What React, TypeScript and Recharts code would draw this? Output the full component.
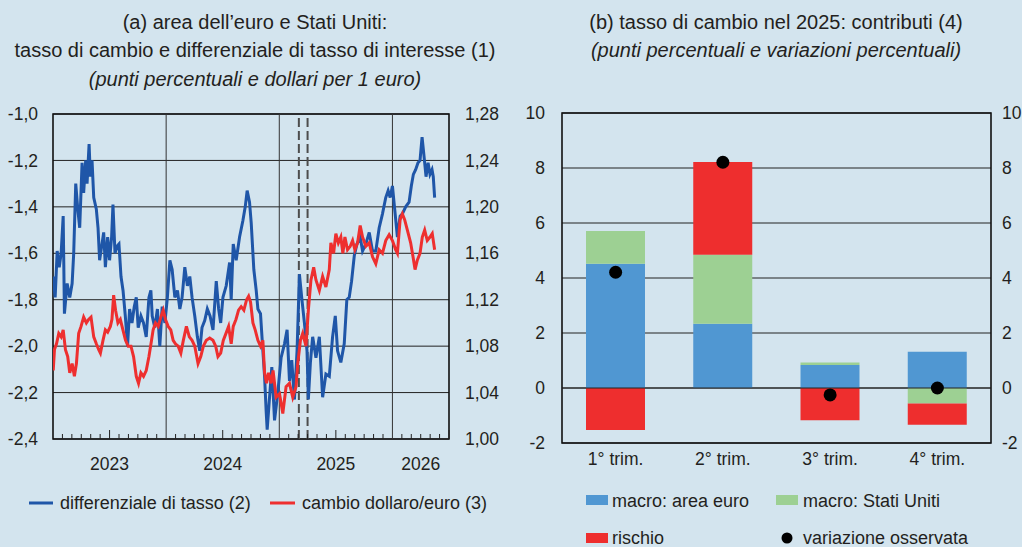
import React from "react";
import {
  Bar,
  CartesianGrid,
  ComposedChart,
  Line,
  LineChart,
  ReferenceArea,
  ReferenceLine,
  XAxis,
  YAxis,
} from "recharts";

// (a) differenziale di tasso, punti percentuali: [anno decimale, valore]
const differenziale: [number, number][] = [
  [2023.002, -1.7], [2023.019, -1.79], [2023.037, -1.59], [2023.055, -1.66], [2023.072, -1.6],
  [2023.09, -1.44], [2023.101, -1.86], [2023.125, -1.73], [2023.148, -1.79], [2023.169, -1.73],
  [2023.183, -1.6], [2023.201, -1.3], [2023.219, -1.41], [2023.236, -1.49], [2023.257, -1.21],
  [2023.271, -1.34], [2023.289, -1.2], [2023.301, -1.3], [2023.319, -1.13], [2023.33, -1.27],
  [2023.345, -1.2], [2023.36, -1.36], [2023.383, -1.41], [2023.398, -1.49], [2023.412, -1.63],
  [2023.433, -1.56], [2023.448, -1.51], [2023.463, -1.66], [2023.483, -1.53], [2023.5, -1.63],
  [2023.518, -1.53], [2023.53, -1.39], [2023.548, -1.6], [2023.566, -1.57], [2023.583, -1.56],
  [2023.601, -1.7], [2023.619, -1.76], [2023.639, -1.87], [2023.659, -2.0], [2023.677, -1.84],
  [2023.698, -1.9], [2023.718, -1.83], [2023.736, -1.79], [2023.753, -1.92], [2023.777, -1.87],
  [2023.8, -1.9], [2023.824, -1.96], [2023.848, -1.79], [2023.865, -1.76], [2023.877, -1.87],
  [2023.9, -1.92], [2023.923, -1.84], [2023.944, -2.0], [2023.965, -1.83], [2023.989, -1.9],
  [2024.011, -1.79], [2024.033, -1.63], [2024.053, -1.67], [2024.077, -1.79], [2024.1, -1.76],
  [2024.121, -1.84], [2024.141, -1.79], [2024.165, -1.66], [2024.188, -1.74], [2024.209, -1.7],
  [2024.229, -1.79], [2024.253, -1.87], [2024.276, -1.96], [2024.297, -2.02], [2024.317, -1.92],
  [2024.341, -1.89], [2024.364, -1.84], [2024.388, -1.87], [2024.414, -1.93], [2024.443, -1.72],
  [2024.464, -1.84], [2024.482, -1.9], [2024.502, -1.79], [2024.531, -1.74], [2024.561, -1.64],
  [2024.575, -1.8], [2024.593, -1.56], [2024.619, -1.63], [2024.649, -1.53], [2024.678, -1.46],
  [2024.699, -1.4], [2024.716, -1.33], [2024.737, -1.38], [2024.752, -1.47], [2024.775, -1.67],
  [2024.796, -1.76], [2024.811, -1.84], [2024.834, -1.86], [2024.855, -2.02], [2024.87, -2.13],
  [2024.884, -2.28], [2024.893, -2.36], [2024.914, -2.22], [2024.934, -2.09], [2024.958, -2.32],
  [2024.987, -2.2], [2025.016, -2.05], [2025.046, -1.99], [2025.069, -1.93], [2025.09, -2.15],
  [2025.11, -2.06], [2025.134, -2.23], [2025.157, -2.02], [2025.178, -1.69], [2025.198, -1.79],
  [2025.222, -1.9], [2025.245, -2.02], [2025.257, -2.23], [2025.275, -2.07], [2025.295, -1.96],
  [2025.324, -2.05], [2025.354, -1.96], [2025.383, -2.22], [2025.412, -2.12], [2025.442, -2.13],
  [2025.471, -1.96], [2025.495, -1.87], [2025.515, -2.02], [2025.544, -2.07], [2025.574, -1.99],
  [2025.597, -1.8], [2025.618, -1.79], [2025.639, -1.72], [2025.663, -1.61], [2025.686, -1.56],
  [2025.715, -1.53], [2025.736, -1.59], [2025.765, -1.56], [2025.795, -1.51], [2025.824, -1.59],
  [2025.853, -1.59], [2025.883, -1.49], [2025.912, -1.43], [2025.941, -1.36], [2025.962, -1.33],
  [2025.98, -1.36], [2026.0, -1.31], [2026.02, -1.41], [2026.044, -1.53], [2026.068, -1.44],
  [2026.088, -1.43], [2026.117, -1.4], [2026.147, -1.38], [2026.167, -1.31], [2026.185, -1.26],
  [2026.205, -1.24], [2026.226, -1.21], [2026.244, -1.2], [2026.262, -1.1], [2026.279, -1.18],
  [2026.297, -1.27], [2026.315, -1.21], [2026.332, -1.26], [2026.35, -1.24], [2026.361, -1.27],
  [2026.373, -1.36],
];

// (a) cambio dollaro/euro: [anno decimale, dollari per 1 euro]
const cambio: [number, number][] = [
  [2023.002, 1.059], [2023.013, 1.077], [2023.031, 1.082], [2023.051, 1.091], [2023.072, 1.088],
  [2023.09, 1.094], [2023.11, 1.077], [2023.13, 1.071], [2023.148, 1.057], [2023.169, 1.065],
  [2023.189, 1.054], [2023.207, 1.065], [2023.227, 1.091], [2023.248, 1.097], [2023.271, 1.105],
  [2023.295, 1.1], [2023.315, 1.103], [2023.336, 1.105], [2023.36, 1.088], [2023.383, 1.082],
  [2023.404, 1.077], [2023.419, 1.074], [2023.442, 1.085], [2023.463, 1.094], [2023.483, 1.092],
  [2023.507, 1.097], [2023.521, 1.103], [2023.536, 1.124], [2023.553, 1.111], [2023.574, 1.1],
  [2023.595, 1.103], [2023.618, 1.094], [2023.641, 1.085], [2023.665, 1.08], [2023.689, 1.08],
  [2023.712, 1.071], [2023.736, 1.054], [2023.756, 1.048], [2023.777, 1.057], [2023.8, 1.054],
  [2023.824, 1.059], [2023.848, 1.071], [2023.871, 1.085], [2023.885, 1.094], [2023.906, 1.1],
  [2023.93, 1.097], [2023.953, 1.105], [2023.974, 1.111], [2023.994, 1.103], [2024.018, 1.097],
  [2024.041, 1.094], [2024.062, 1.085], [2024.082, 1.082], [2024.106, 1.08], [2024.13, 1.074],
  [2024.152, 1.085], [2024.179, 1.097], [2024.205, 1.088], [2024.229, 1.085], [2024.253, 1.08],
  [2024.282, 1.065], [2024.306, 1.071], [2024.329, 1.08], [2024.355, 1.085], [2024.385, 1.087],
  [2024.414, 1.085], [2024.438, 1.08], [2024.458, 1.071], [2024.482, 1.074], [2024.505, 1.085],
  [2024.529, 1.091], [2024.552, 1.097], [2024.575, 1.082], [2024.593, 1.097], [2024.617, 1.103],
  [2024.64, 1.111], [2024.663, 1.114], [2024.687, 1.111], [2024.711, 1.12], [2024.729, 1.123],
  [2024.746, 1.118], [2024.767, 1.1], [2024.787, 1.094], [2024.811, 1.085], [2024.834, 1.08],
  [2024.855, 1.085], [2024.87, 1.057], [2024.887, 1.048], [2024.905, 1.057], [2024.928, 1.048],
  [2024.945, 1.059], [2024.972, 1.036], [2025.002, 1.039], [2025.031, 1.022], [2025.06, 1.045],
  [2025.09, 1.048], [2025.119, 1.036], [2025.148, 1.045], [2025.163, 1.065], [2025.187, 1.085],
  [2025.207, 1.091], [2025.236, 1.08], [2025.257, 1.111], [2025.28, 1.137], [2025.304, 1.148],
  [2025.324, 1.137], [2025.354, 1.128], [2025.383, 1.14], [2025.412, 1.131], [2025.442, 1.146],
  [2025.456, 1.169], [2025.48, 1.16], [2025.5, 1.177], [2025.522, 1.169], [2025.544, 1.174],
  [2025.562, 1.16], [2025.58, 1.174], [2025.603, 1.163], [2025.627, 1.166], [2025.648, 1.171],
  [2025.668, 1.163], [2025.692, 1.169], [2025.715, 1.184], [2025.736, 1.174], [2025.765, 1.166],
  [2025.795, 1.169], [2025.824, 1.157], [2025.853, 1.151], [2025.883, 1.163], [2025.912, 1.16],
  [2025.941, 1.171], [2025.971, 1.176], [2026.0, 1.171], [2026.029, 1.163], [2026.044, 1.16],
  [2026.068, 1.189], [2026.088, 1.194], [2026.108, 1.189], [2026.132, 1.18], [2026.161, 1.169],
  [2026.182, 1.157], [2026.2, 1.146], [2026.22, 1.154], [2026.244, 1.16], [2026.264, 1.174],
  [2026.285, 1.18], [2026.308, 1.171], [2026.332, 1.174], [2026.352, 1.177], [2026.373, 1.163],
];

const leftTicks = [-2.4, -2.2, -2.0, -1.8, -1.6, -1.4, -1.2, -1.0];
const rightTicks = [1.0, 1.04, 1.08, 1.12, 1.16, 1.2, 1.24, 1.28];
const yearLines = [2024, 2025, 2026];
const eventLines = [2025.173, 2025.25];
const timeDomain = [2023, 2026.5];

// (b) contributi alla variazione del cambio nel 2025
const trimestri = ["1° trim.", "2° trim.", "3° trim.", "4° trim."];
const macroEuro = [4.52, 2.34, 0.84, 1.32];
const macroUsa = [1.19, 2.51, 0.09, -0.56];
const rischio = [-1.53, 3.37, -1.17, -0.78];
const osservata = [4.21, 8.21, -0.25, 0.0];
const barTicks = [-2, 0, 2, 4, 6, 8, 10];

const FONT = "'Liberation Sans', Arial, Helvetica, sans-serif";
const BG = "#D3E4EE";
const INK = "#231F20";
const LINE_BLUE = "#1F56A8";
const LINE_RED = "#EE2F2F";
const BAR_BLUE = "#5097D2";
const BAR_GREEN = "#9DD093";
const BAR_RED = "#EE2E2E";

const diffData = differenziale.map(([t, v]) => ({ t, v }));
const cambioData = cambio.map(([t, v]) => ({ t, v }));
const barData = trimestri.map((cat, i) => ({
  cat,
  euro: macroEuro[i],
  usa: macroUsa[i],
  rischio: rischio[i],
  oss: osservata[i],
}));

const monthTicks: number[] = [];
for (let k = 0; k <= (timeDomain[1] - timeDomain[0]) * 12; k++) {
  monthTicks.push(timeDomain[0] + k / 12);
}

const comma = (d: number) => (v: number) => v.toFixed(d).replace(".", ",");
const tickStyle = { fontSize: 17.5, fill: INK, fontFamily: FONT };

const MonthTick = (props: any) => {
  const { x, y, payload } = props;
  const k = Math.round((payload.value - timeDomain[0]) * 12);
  const m = k % 12;
  const year = timeDomain[0] + Math.floor(k / 12);
  const mid = (Math.max(year, timeDomain[0]) + Math.min(year + 1, timeDomain[1])) / 2;
  const isLabel = Math.abs(payload.value - mid) < 0.01;
  if (m === 0) return <g />;
  const len = m === 6 ? 9 : 5;
  return (
    <g>
      <line x1={x} x2={x} y1={y} y2={y - len} stroke="#222" strokeWidth={1} />
      {isLabel && (
        <text x={x} y={y + 31} textAnchor="middle" {...tickStyle}>
          {year}
        </text>
      )}
    </g>
  );
};

const txt = { fontFamily: FONT, fill: INK };

export default function App() {
  return (
    <div
      style={{
        position: "absolute",
        left: 0,
        top: 0,
        width: 1022,
        height: 547,
        background: BG,
        overflow: "hidden",
        fontFamily: FONT,
      }}
    >
      <div style={{ position: "absolute", left: 0, top: 0 }}>
        <LineChart width={510} height={480} margin={{ top: 114, right: 6, bottom: 6, left: 13 }}>
          <XAxis
            dataKey="t"
            type="number"
            domain={timeDomain}
            ticks={monthTicks}
            interval={0}
            allowDataOverflow
            tickLine={false}
            axisLine={false}
            tickSize={0}
            tickMargin={0}
            height={35}
            tick={<MonthTick />}
          />
          <YAxis
            yAxisId="l"
            domain={[-2.4, -1.0]}
            ticks={leftTicks}
            width={40}
            tickLine={false}
            axisLine={false}
            tickSize={0}
            tickMargin={15}
            tickFormatter={comma(1)}
            tick={tickStyle}
          />
          <YAxis
            yAxisId="r"
            orientation="right"
            domain={[1.0, 1.28]}
            ticks={rightTicks}
            width={55}
            tickLine={false}
            axisLine={false}
            tickSize={0}
            tickMargin={16}
            tickFormatter={comma(2)}
            tick={tickStyle}
          />
          <CartesianGrid yAxisId="l" vertical={false} stroke="#222" strokeWidth={1} />
          {yearLines.map((x) => (
            <ReferenceLine key={x} x={x} yAxisId="l" stroke="#333" strokeWidth={1} />
          ))}
          {eventLines.map((x) => (
            <ReferenceLine
              key={x}
              x={x}
              yAxisId="l"
              stroke="#4d4d4d"
              strokeWidth={2}
              strokeDasharray="9 4"
            />
          ))}
          <Line
            data={diffData}
            dataKey="v"
            yAxisId="l"
            type="linear"
            stroke={LINE_BLUE}
            strokeWidth={3}
            dot={false}
            activeDot={false}
            isAnimationActive={false}
          />
          <Line
            data={cambioData}
            dataKey="v"
            yAxisId="r"
            type="linear"
            stroke={LINE_RED}
            strokeWidth={3}
            dot={false}
            activeDot={false}
            isAnimationActive={false}
          />
          <ReferenceArea
            yAxisId="l"
            y1={-2.4}
            y2={-1.0}
            fill="none"
            fillOpacity={0}
            stroke="#111"
            strokeWidth={1.6}
          />
        </LineChart>
      </div>

      <div style={{ position: "absolute", left: 500, top: 0 }}>
        <ComposedChart
          width={522}
          height={480}
          data={barData}
          stackOffset="sign"
          margin={{ top: 113, right: 0, bottom: 7, left: 0 }}
        >
          <XAxis
            dataKey="cat"
            tickLine={false}
            axisLine={false}
            tickSize={0}
            tickMargin={10}
            height={30}
            tick={tickStyle}
          />
          <YAxis
            yAxisId="a"
            domain={[-2, 10]}
            ticks={barTicks}
            width={62}
            tickLine={false}
            axisLine={false}
            tickSize={0}
            tickMargin={17}
            tick={tickStyle}
          />
          <YAxis
            yAxisId="b"
            orientation="right"
            domain={[-2, 10]}
            ticks={barTicks}
            width={31}
            tickLine={false}
            axisLine={false}
            tickSize={0}
            tickMargin={11}
            tick={tickStyle}
          />
          <CartesianGrid yAxisId="a" vertical={false} stroke="#222" strokeWidth={1} />
          <Bar dataKey="euro" yAxisId="a" stackId="s" fill={BAR_BLUE} barSize={59} isAnimationActive={false} />
          <Bar dataKey="usa" yAxisId="a" stackId="s" fill={BAR_GREEN} barSize={59} isAnimationActive={false} />
          <Bar dataKey="rischio" yAxisId="a" stackId="s" fill={BAR_RED} barSize={59} isAnimationActive={false} />
          <ReferenceLine y={0} yAxisId="a" stroke="#222" strokeWidth={1} />
          <Line
            dataKey="oss"
            yAxisId="b"
            stroke="none"
            dot={{ r: 6.5, fill: "#000", stroke: "none" }}
            activeDot={false}
            isAnimationActive={false}
          />
          <ReferenceArea
            yAxisId="a"
            y1={-2}
            y2={10}
            fill="none"
            fillOpacity={0}
            stroke="#111"
            strokeWidth={1.6}
          />
        </ComposedChart>
      </div>

      <svg
        width={1022}
        height={547}
        style={{ position: "absolute", left: 0, top: 0, pointerEvents: "none" }}
      >
        <g {...txt} fontSize={20} textAnchor="middle">
          <text x={255} y={29}>(a) area dell’euro e Stati Uniti:</text>
          <text x={255} y={57}>tasso di cambio e differenziale di tasso di interesse (1)</text>
          <text x={255} y={86} fontStyle="italic">(punti percentuali e dollari per 1 euro)</text>
          <text x={776} y={29}>(b) tasso di cambio nel 2025: contributi (4)</text>
          <text x={776} y={57} fontStyle="italic">(punti percentuali e variazioni percentuali)</text>
        </g>
        <g {...txt} fontSize={18}>
          <line x1={29} x2={53} y1={503} y2={503} stroke={LINE_BLUE} strokeWidth={3} />
          <text x={60} y={509}>differenziale di tasso (2)</text>
          <line x1={270} x2={295} y1={503} y2={503} stroke={LINE_RED} strokeWidth={3} />
          <text x={302} y={509}>cambio dollaro/euro (3)</text>

          <rect x={586} y={495} width={22} height={10} fill={BAR_BLUE} />
          <text x={612} y={507}>macro: area euro</text>
          <rect x={776} y={495} width={22} height={10} fill={BAR_GREEN} />
          <text x={803} y={507}>macro: Stati Uniti</text>
          <rect x={586} y={533} width={22} height={10} fill={BAR_RED} />
          <text x={612} y={544}>rischio</text>
          <circle cx={787} cy={538} r={5.5} fill="#000" />
          <text x={803} y={544}>variazione osservata</text>
        </g>
      </svg>
    </div>
  );
}
